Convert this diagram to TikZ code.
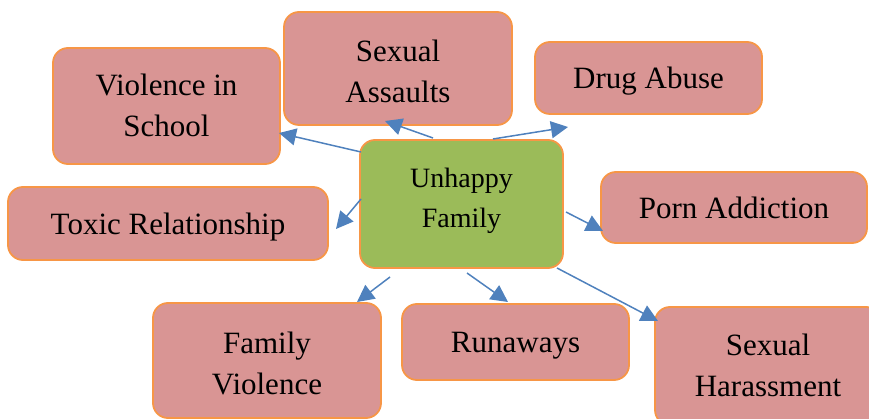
\documentclass[tikz,border=0pt]{standalone}
\usepackage{fontspec}
\setmainfont{Liberation Serif}
\usetikzlibrary{arrows.meta}
\definecolor{boxpink}{HTML}{D99594}
\definecolor{boxline}{HTML}{F79646}
\definecolor{hubgreen}{HTML}{9BBB59}
\definecolor{linkblue}{HTML}{4F81BD}
% two centred lines; the box baseline is that of the first line
\newcommand\pairlines[2]{\begin{tabular}[t]{@{}c@{}}#1\\#2\end{tabular}}
\tikzset{
  topic/.style={draw=boxline, line width=1.8pt, fill=boxpink, rounded corners=15pt,
    inner sep=0pt, text depth=0pt, font=\fontsize{31}{41}\selectfont},
  % first baseline sits (#1 - 20)/2 above the box centre
  twoline/.style={text height=20pt, text depth=#1},
  hub/.style={topic, fill=hubgreen, font=\fontsize{28}{40}\selectfont},
  link/.style={draw=linkblue, line width=1.5pt,
    -{Triangle[length=17pt,width=17pt]}}
}
\begin{document}
\begin{tikzpicture}[x=1pt,y=-1pt]
\useasboundingbox (0,0) rectangle (869,419);

% outer topics
\node[topic, twoline=40pt, minimum width=227pt, minimum height=116pt] (vis) at (166.5,106) {\pairlines{Violence in}{School}};
\node[topic, twoline=33pt, minimum width=228pt, minimum height=113pt] (sa) at (398,68.5) {\pairlines{Sexual}{Assaults}};
\node[topic, minimum width=227pt, minimum height=72pt] (da) at (648.5,78) {Drug Abuse};
\node[topic, minimum width=320pt, minimum height=73pt] (tr) at (168,223.5) {Toxic Relationship};
\node[topic, minimum width=266pt, minimum height=71pt] (pa) at (734,207.5) {Porn Addiction};
\node[topic, twoline=35pt, minimum width=228pt, minimum height=115pt] (fv) at (267,360.5) {\pairlines{Family}{Violence}};
\node[topic, minimum width=227pt, minimum height=76pt] (rw) at (515.5,342) {Runaways};
\node[topic, twoline=42pt, minimum width=226pt, minimum height=118pt] (sh) at (768,366) {\pairlines{Sexual}{Harassment}};

% central topic
\node[hub, twoline=52pt, minimum width=203pt, minimum height=128pt] (uf) at (461.5,204) {\pairlines{Unhappy}{Family}};

% arrow ends
\coordinate (s1) at (361,152);  \coordinate (t1) at (279,133);
\coordinate (s2) at (433,138);  \coordinate (t2) at (385,121);
\coordinate (s3) at (493,139);  \coordinate (t3) at (568,127);
\coordinate (s4) at (361,199);  \coordinate (t4) at (336,229);
\coordinate (s5) at (566,212);  \coordinate (t5) at (603,231);
\coordinate (s6) at (557,268);  \coordinate (t6) at (658,321);
\coordinate (s7) at (390,277);  \coordinate (t7) at (357,302);
\coordinate (s8) at (467,273);  \coordinate (t8) at (508,302);

\draw[link] (s1) -- (t1);
\draw[link] (s2) -- (t2);
\draw[link] (s3) -- (t3);
\draw[link] (s4) -- (t4);
\draw[link] (s5) -- (t5);
\draw[link] (s6) -- (t6);
\draw[link] (s7) -- (t7);
\draw[link] (s8) -- (t8);
\end{tikzpicture}
\end{document}
